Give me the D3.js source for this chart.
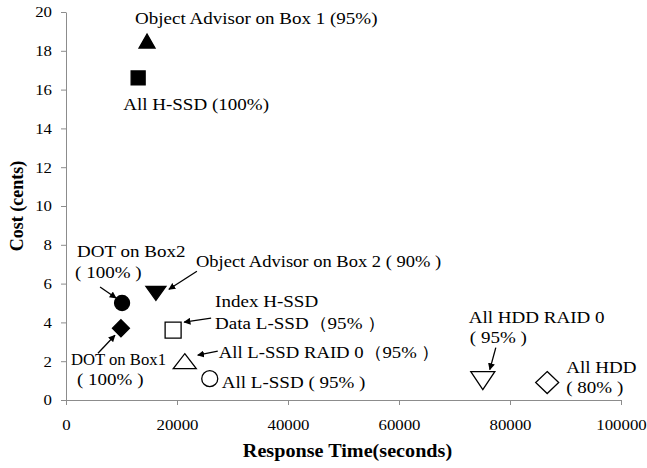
<!DOCTYPE html>
<meta charset="utf-8">
<script src="https://cdnjs.cloudflare.com/ajax/libs/d3/7.8.5/d3.min.js"></script>
<div id="chart"></div>
<script>

// data
var configs = ["Object Advisor on Box1", "All H-SSD", "DOT on Box2", "DOT on Box1",
               "Object Advisor on Box2", "Index H-SSD Data L-SSD", "All L-SSD RAID 0",
               "All L-SSD", "All HDD RAID 0", "All HDD"];
var responseTime = [14600, 13000, 10100, 9900, 16200, 19300, 21400, 25900, 75100, 86700];
var cost = [18.5, 16.6, 5.0, 3.7, 5.5, 3.6, 2.0, 1.1, 1.0, 0.9];
var labelLines = [
  ["Object Advisor on Box 1 (95%)"],
  ["All H-SSD (100%)"],
  ["DOT on Box2", "( 100% )"],
  ["DOT on Box1", "( 100% )"],
  ["Object Advisor on Box 2 ( 90% )"],
  ["Index H-SSD", "Data L-SSD（95% ）"],
  ["All L-SSD RAID 0（95% ）"],
  ["All L-SSD ( 95% )"],
  ["All HDD RAID 0", "( 95% )"],
  ["All HDD", "( 80% )"]
];
var xTicks = [0, 20000, 40000, 60000, 80000, 100000];
var yTicks = [0, 2, 4, 6, 8, 10, 12, 14, 16, 18, 20];

// marker look + label placement (pixel offsets from the point, optional x-stretch)
var markers = [
  {shape: "triUp", w: 16, h: 14, fill: true},
  {shape: "square", w: 14, h: 14, fill: true},
  {shape: "circle", w: 15, h: 15, fill: true},
  {shape: "diamond", w: 17, h: 17, fill: true},
  {shape: "triDown", w: 20, h: 14, fill: true},
  {shape: "square", w: 16, h: 16, fill: false},
  {shape: "triUp", w: 23, h: 15, fill: false},
  {shape: "circle", w: 16, h: 16, fill: false},
  {shape: "triDown", w: 24, h: 18, fill: false},
  {shape: "diamond", w: 23, h: 22, fill: false}
];
var layout = [
  {lines: [[-12, -17]]},
  {lines: [[-15, 32]]},
  {lines: [[-45, -46], [-47, -25]], arrow: [-22, -16, -6, -5]},
  {lines: [[-50, 37, 0.98], [-44, 57]], arrow: [-23, 25, -6, 7]},
  {lines: [[40, -26, 1.09]], arrow: [41, -22, 13, -4]},
  {lines: [[42, -23], [42, -1]], arrow: [38, -12, 11, -8]},
  {lines: [[34, -3, 1.1]], arrow: [33, -10, 13, -6]},
  {lines: [[12, 9]]},
  {lines: [[-14, -58], [-13, -38]], arrow: [13, -33, 7, -11]},
  {lines: [[19, -10], [19, 10]]}
];

var serif = "'Liberation Serif', 'Times New Roman', serif";
var stretch = 1.12;   // the original's type is a bit wide

d3.select("body").style("margin", "0");

var margin = {top: 12, right: 26, bottom: 68, left: 66},
    width = 647 - margin.left - margin.right,
    height = 468 - margin.top - margin.bottom;

var svg = d3.select("#chart")
  .append("svg")
    .attr("width", 647)
    .attr("height", 468)
    .style("display", "block")
  .append("g")
    .attr("transform", "translate(" + margin.left + "," + margin.top + ")");

svg.append("defs").append("marker")
    .attr("id", "arr")
    .attr("viewBox", "0 0 10 10")
    .attr("refX", 9).attr("refY", 5)
    .attr("markerWidth", 7).attr("markerHeight", 7)
    .attr("markerUnits", "userSpaceOnUse")
    .attr("orient", "auto")
  .append("path")
    .attr("d", "M0,0 L10,5 L0,10 z")
    .attr("fill", "#000");

var x = d3.scaleLinear().domain([0, 100000]).range([0, width]);
var y = d3.scaleLinear().domain([0, 20]).range([height, 0]);

var xAxis = svg.append("g")
  .attr("transform", "translate(0," + height + ")")
  .call(d3.axisBottom(x).tickValues(xTicks).tickSize(5).tickSizeOuter(0).tickPadding(14)
        .tickFormat(d3.format("d")));
var yAxis = svg.append("g")
  .call(d3.axisLeft(y).tickValues(yTicks).tickSize(5).tickSizeOuter(0).tickPadding(7.5));

[xAxis, yAxis].forEach(function(a) {
  a.selectAll("path, line").attr("stroke", "#8c8c8c");
  a.selectAll("text").attr("fill", "#000").style("font-size", "15px")
    .attr("transform", "scale(" + stretch + ",1)");
});

svg.append("text")
  .attr("transform", "translate(" + (width / 2 + 4) + "," + (height + 57) + ") scale(" + stretch + ",1)")
  .attr("text-anchor", "middle")
  .style("font-size", "18px").style("font-weight", "bold")
  .text("Response Time(seconds)");

svg.append("text")
  .attr("transform", "translate(" + (-43) + "," + (height / 2) + ") rotate(-90)")
  .attr("text-anchor", "middle")
  .style("font-size", "18px").style("font-weight", "bold")
  .text("Cost (cents)");

function shapePath(m) {
  var w = m.w / 2, h = m.h / 2;
  if (m.shape === "square") return "M" + -w + "," + -h + "H" + w + "V" + h + "H" + -w + "Z";
  if (m.shape === "triUp") return "M0," + -h + "L" + w + "," + h + "L" + -w + "," + h + "Z";
  if (m.shape === "triDown") return "M0," + h + "L" + w + "," + -h + "L" + -w + "," + -h + "Z";
  if (m.shape === "diamond") return "M0," + -h + "L" + w + ",0L0," + h + "L" + -w + ",0Z";
  return "M" + -w + ",0A" + w + "," + h + " 0 1,0 " + w + ",0A" + w + "," + h + " 0 1,0 " + -w + ",0Z";
}

var pts = configs.map(function(c, i) {
  return {name: c, px: x(responseTime[i]), py: y(cost[i]), m: markers[i], lay: layout[i], text: labelLines[i]};
});

svg.selectAll("path.pt")
  .data(pts)
  .enter()
  .append("path")
    .attr("class", "pt")
    .attr("transform", function(d) { return "translate(" + d.px + "," + d.py + ")"; })
    .attr("d", function(d) { return shapePath(d.m); })
    .attr("fill", function(d) { return d.m.fill ? "#000" : "#fff"; })
    .attr("stroke", "#000")
    .attr("stroke-width", 1.3);

pts.forEach(function(d) {
  d.text.forEach(function(t, k) {
    var o = d.lay.lines[k];
    var sx = o[2] || stretch;
    svg.append("text")
      .attr("transform", "translate(" + (d.px + o[0]) + "," + (d.py + o[1]) + ") scale(" + sx + ",1)")
      .style("font-size", "17px")
      .text(t);
  });
  if (d.lay.arrow) {
    var a = d.lay.arrow;
    svg.append("line")
      .attr("x1", d.px + a[0]).attr("y1", d.py + a[1])
      .attr("x2", d.px + a[2]).attr("y2", d.py + a[3])
      .attr("stroke", "#000").attr("stroke-width", 1.3)
      .attr("marker-end", "url(#arr)");
  }
});

// all text in a Times-like face
d3.selectAll("text").style("font-family", serif);

</script>
